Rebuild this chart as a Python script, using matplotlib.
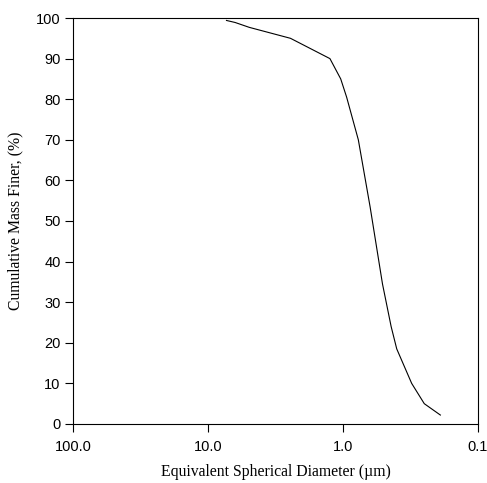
#!/usr/bin/env python3
"""Cumulative mass finer vs. equivalent spherical diameter (sedigraph curve)."""

import matplotlib
matplotlib.use("Agg")
import matplotlib.pyplot as plt
import matplotlib.ticker as ticker

# diameter in micrometres, cumulative mass finer in percent
diameter = [7.3, 6.3, 4.95, 2.45, 1.25, 1.04, 0.94, 0.77, 0.63, 0.51, 0.44, 0.40, 0.31, 0.25, 0.19]
mass_finer = [99.4, 98.9, 97.7, 95.0, 90.0, 85.0, 80.5, 70.0, 53.5, 34.5, 24.0, 18.5, 10.0, 5.0, 2.2]

x_ticks = [100.0, 10.0, 1.0, 0.1]
x_tick_labels = ["100.0", "10.0", "1.0", "0.1"]
y_ticks = list(range(0, 101, 10))


def main():
    fig = plt.figure(figsize=(4.87, 4.83), dpi=100)
    ax = fig.add_axes([0.150, 0.1222, 0.8315, 0.8405])

    ax.plot(diameter, mass_finer, "-", color="black", linewidth=0.8)

    ax.set_xscale("log")
    ax.set_xlim(100, 0.1)
    ax.set_ylim(0, 100)
    ax.set_xticks(x_ticks)
    ax.xaxis.set_major_formatter(ticker.FixedFormatter(x_tick_labels))
    ax.xaxis.set_minor_locator(ticker.NullLocator())
    ax.set_yticks(y_ticks)

    for lbl in ax.get_xticklabels() + ax.get_yticklabels():
        lbl.set_fontfamily("Liberation Sans")
        lbl.set_fontsize(10.5)
    ax.tick_params(axis="both", direction="out", length=5.5, width=0.8, colors="black")
    ax.tick_params(axis="x", pad=6)
    for s in ax.spines.values():
        s.set_linewidth(0.8)

    ax.set_xlabel("Equivalent Spherical Diameter (\u00b5m)", fontfamily="Liberation Serif",
                  fontsize=11.3, labelpad=7)
    ax.set_ylabel("Cumulative Mass Finer, (%)", fontfamily="Liberation Serif",
                  fontsize=11.3, labelpad=9)

    fig.savefig("out.png", dpi=100)


if __name__ == "__main__":
    main()
